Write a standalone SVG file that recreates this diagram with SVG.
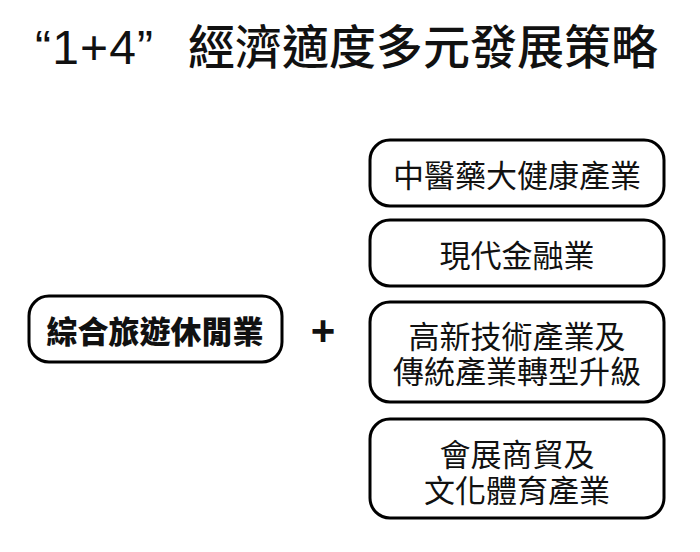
<svg xmlns="http://www.w3.org/2000/svg" width="700" height="552" viewBox="0 0 700 552">
<style>
.box{fill:#fff;stroke:#000;stroke-width:3}
.t{font-family:"Noto Sans CJK TC","Noto Sans CJK SC",sans-serif;font-size:31px;fill:#111;text-anchor:middle;dominant-baseline:central}
.title{font-family:"Noto Sans CJK TC","Noto Sans CJK SC",sans-serif;font-size:47px;font-weight:500;fill:#111}
</style>
<rect width="700" height="552" fill="#fff"/>
<text class="title" x="35" y="64" style="font-family:'Liberation Sans',sans-serif;font-size:48px;font-weight:400" textLength="118">“1+4”</text>
<text class="title" x="188" y="64" textLength="470">經濟適度多元發展策略</text>
<g id="left">
<rect class="box" x="29" y="296" width="253" height="66" rx="20"/>
<text class="t" x="155" y="329" style="font-weight:900">綜合旅遊休閒業</text>
</g>
<g id="plus">
<text class="t" x="323" y="330" style="font-family:'Liberation Sans',sans-serif;font-size:42px;font-weight:700">+</text>
</g>
<g id="n1">
<rect class="box" x="370" y="140" width="294" height="66" rx="20"/>
<text class="t" x="517" y="173">中醫藥大健康產業</text>
</g>
<g id="n2">
<rect class="box" x="370" y="220" width="294" height="66" rx="20"/>
<text class="t" x="517" y="253">現代金融業</text>
</g>
<g id="n3">
<rect class="box" x="370" y="302" width="294" height="100" rx="20"/>
<text class="t" x="517" y="334">高新技術產業及</text>
<text class="t" x="517" y="369">傳統產業轉型升級</text>
</g>
<g id="n4">
<rect class="box" x="370" y="419" width="294" height="99" rx="20"/>
<text class="t" x="517" y="452">會展商貿及</text>
<text class="t" x="517" y="488">文化體育產業</text>
</g>
<g id="connectors"></g>
</svg>
